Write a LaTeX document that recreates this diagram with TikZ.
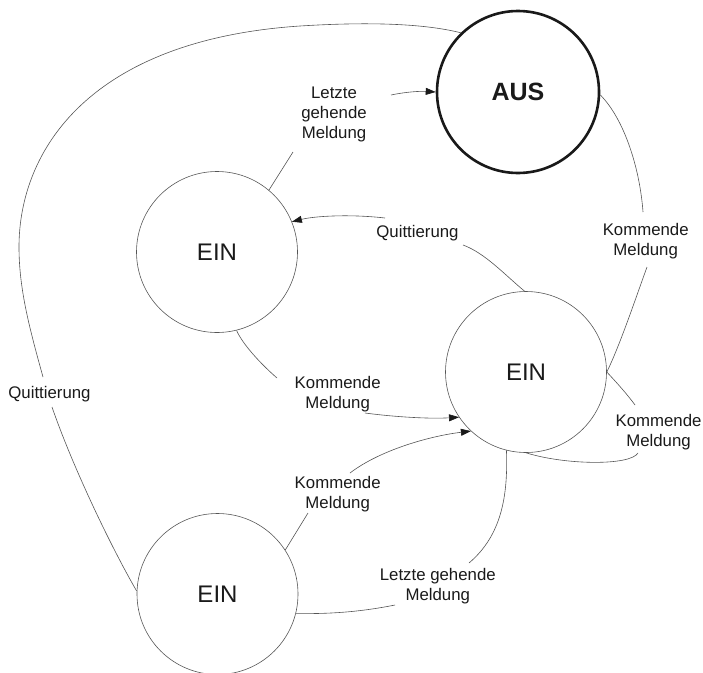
\documentclass[tikz,border=0pt]{standalone}
\usepackage{fontspec}
\setmainfont{Liberation Sans}
\usetikzlibrary{arrows.meta}
\definecolor{linegray}{HTML}{555555}
\definecolor{txt}{HTML}{1A1A1A}
\begin{document}
\begin{tikzpicture}[x=1pt,y=-1pt,
  state/.style={circle, draw=linegray, line width=0.6pt, minimum size=161pt, inner sep=0pt, text=txt, font=\fontsize{24}{28}\selectfont},
  thickstate/.style={state, draw=black!90, line width=2.6pt, minimum size=162pt, font=\fontsize{25}{28}\selectfont\bfseries},
  lbl/.style={align=center, inner sep=0pt, text=txt, font=\fontsize{16.8}{20}\selectfont},
  conn/.style={draw=linegray, line width=0.6pt},
  arr/.style={conn, -{Triangle[length=10pt,width=7pt,color=txt]}}]
\useasboundingbox (0,0) rectangle (703,672);

% states
\node[state] (ein1) at (217,252) {EIN};
\node[state] (ein2) at (526,372) {EIN};
\node[state] (ein3) at (217.5,594) {EIN};
\node[thickstate] (aus) at (518,92) {AUS};

% labels
\node[lbl] (l1) at (334,114.7) {Letzte\\gehende\\Meldung};
\node[lbl, anchor=base] (q1) at (417.5,237.7) {Quittierung};
\node[lbl] (k1) at (645.7,240.7) {Kommende\\Meldung};
\node[lbl, anchor=base] (qL) at (49.5,398.3) {Quittierung};
\node[lbl] (k2) at (337.7,394) {Kommende\\Meldung};
\node[lbl] (k3) at (337.7,494) {Kommende\\Meldung};
\node[lbl] (l2) at (437.8,585.7) {Letzte gehende\\Meldung};
\node[lbl] (k4) at (658.5,432.3) {Kommende\\Meldung};

% free ends of connectors at the labels
\coordinate (qLb) at (52,407);
\coordinate (qLt) at (43,377);
\coordinate (l1a) at (293,152);
\coordinate (l1b) at (391,95);
\coordinate (q1a) at (463,245);
\coordinate (q1b) at (385,218);
\coordinate (k1a) at (647,267);
\coordinate (k1b) at (643,212);
\coordinate (k4a) at (635,405);
\coordinate (k4b) at (638,453);
\coordinate (k2a) at (277,378);
\coordinate (k2b) at (365,413);
\coordinate (k3a) at (308,513);
\coordinate (k3b) at (350,473);
\coordinate (l2a) at (469,563);
\coordinate (l2b) at (395,605);

% big outer loop (Quittierung)
\draw[conn] (ein3.178) .. controls (110,545) and (72,465) .. (qLb);
\draw[conn] (qLt) .. controls (30,330) and (19,290) .. (19,247)
  .. controls (19,150) and (90,40) .. (300,26)
  .. controls (380,21) and (430,25) .. (aus.134);

% Letzte gehende Meldung (top)
\draw[conn] (ein1.50) -- (l1a);
\draw[arr] (l1b) .. controls (405,92) and (420,91) .. (aus.west);

% Quittierung (middle)
\draw[conn] (ein2.91) .. controls (505,275) and (485,253) .. (q1a);
\draw[arr] (q1b) .. controls (350,214) and (315,216) .. (ein1.22);

% Kommende Meldung (right)
\draw[conn] (ein2.east) .. controls (620,345) and (635,300) .. (k1a);
\draw[conn] (k1b) .. controls (640,170) and (625,120) .. (aus.-2);

% Kommende Meldung (self loop)
\draw[conn] (ein2.east) .. controls (617,383) and (627,394) .. (k4a);
\draw[conn] (k4b) .. controls (630,466) and (565,465) .. (ein2.south);

% Kommende Meldung (center)
\draw[conn] (ein1.284) .. controls (243,345) and (262,365) .. (k2a);
\draw[arr] (k2b) .. controls (395,417) and (430,419) .. (ein2.214.6);

% Kommende Meldung (lower)
\draw[conn] (ein3.33) -- (k3a);
\draw[arr] (k3b) .. controls (380,450) and (430,436) .. (ein2.227.5);

% Letzte gehende Meldung (bottom)
\draw[conn] (ein2.256.6) .. controls (508,495) and (502,535) .. (l2a);
\draw[conn] (l2b) .. controls (360,612) and (330,614) .. (ein3.-14.3);
\end{tikzpicture}
\end{document}
